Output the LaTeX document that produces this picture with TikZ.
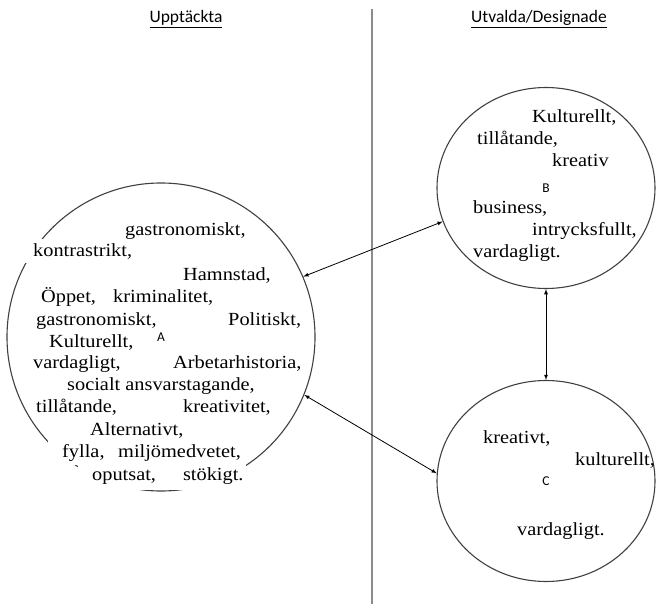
\documentclass[tikz,border=0pt]{standalone}
\usepackage{fontspec}
\setmainfont{Liberation Serif}[FakeStretch=1.1]
\newfontfamily\labelfont{Carlito}
\usetikzlibrary{shapes.geometric}

\begin{document}
\begin{tikzpicture}[
    x=1pt, y=-1pt,
    every node/.style={font=\fontsize{18.5}{22}\selectfont},
    ring/.style={draw=black!75, line width=1.1pt, inner sep=0pt,
      font=\labelfont\fontsize{13.5}{16}\selectfont},
    aword/.style={anchor=base west, fill=white, inner xsep=2pt, inner ysep=4pt},
    word/.style={anchor=base west, inner sep=2pt},
    head/.style={anchor=base, font=\labelfont\fontsize{17.5}{20}\selectfont},
    link/.style={<->, >=latex, line width=0.8pt}
  ]
  \useasboundingbox (0,0) rectangle (658,604);

  % divider
  \draw[black!45, line width=1.5pt] (372,9) -- (372,604);

  % headings
  \node[head] (left) at (186,22.5) {\underline{Upptäckta}};
  \node[head] (right) at (539,22.5) {\underline{Utvalda/Designade}};

  % circles
  \node[ring, circle, minimum size=308pt] (A) at (161,337) {A};
  \node[ring, ellipse, minimum width=218pt, minimum height=201pt] (B) at (546,188) {B};
  \node[ring, ellipse, minimum width=218pt, minimum height=201pt] (C) at (546,481) {C};

  % words in A
  \node[aword] (a2) at (20,256) {\hspace*{11pt}kontrastrikt,};
  \node[aword] (a1) at (123,235) {gastronomiskt,};
  \node[aword] (a3) at (181,280) {Hamnstad,};
  \node[aword] (a4) at (39,302) {Öppet,};
  \node[aword] (a5) at (111,302) {kriminalitet,};
  \node[aword] (a6) at (34,325) {gastronomiskt,};
  \node[aword] (a7) at (226,325) {Politiskt,};
  \node[aword] (a8) at (47,347) {Kulturellt,};
  \node[aword] (a9) at (31,368) {vardagligt,};
  \node[aword] (a10) at (171,368) {Arbetarhistoria,};
  \node[aword] (a11) at (65,390) {socialt ansvarstagande,};
  \node[aword] (a12) at (34,412) {tillåtande,};
  \node[aword] (a13) at (181,412) {kreativitet,};
  \node[aword] (a14) at (88,435) {Alternativt,};
  \node[aword, inner ysep=6pt] (a16) at (78,480) {\hspace*{12pt}oputsat,\hspace{27pt}stökigt.};
  \node[aword] (a15) at (48,457) {\hspace*{12pt}fylla,\hspace{13.6pt}miljömedvetet,};

  % words in B
  \node[word] (b1) at (530,123) {Kulturellt,};
  \node[word] (b2) at (475,145) {tillåtande,};
  \node[word] (b3) at (550,167) {kreativ};
  \node[word] (b4) at (471,213) {business,};
  \node[word] (b5) at (530,235) {intrycksfullt,};
  \node[word] (b6) at (471,257) {vardagligt.};

  % words in C
  \node[word] (c1) at (481,443) {kreativt,};
  \node[word] (c2) at (573,465) {kulturellt,};
  \node[word] (c3) at (515,535) {vardagligt.};

  % links
  \draw[link] (A.23) -- (B.198);
  \draw[link] (A.-22.5) -- (C.176);
  \draw[link] (B.south) -- (C.north);
\end{tikzpicture}
\end{document}
